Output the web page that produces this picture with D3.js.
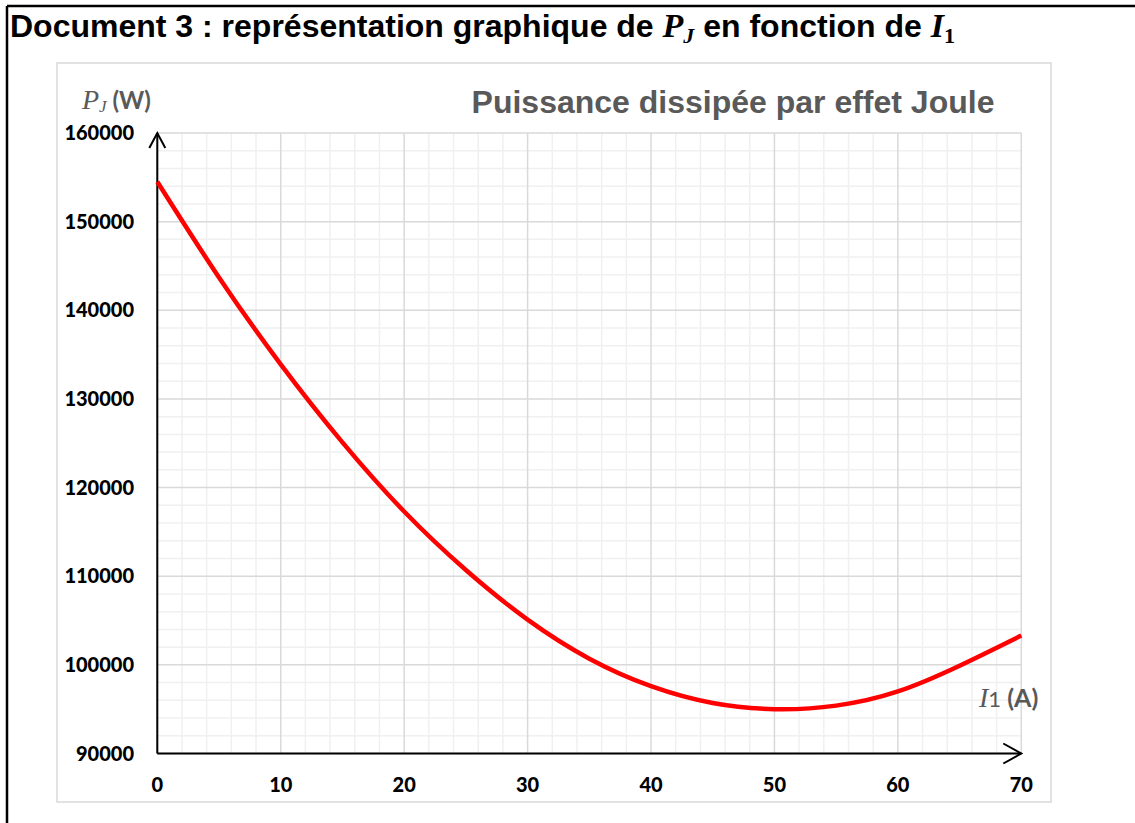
<!DOCTYPE html>
<html>
<head>
<meta charset="utf-8">
<script src="https://cdn.jsdelivr.net/npm/d3@7"></script>
<style>
body { margin: 0; background: #fff; }
svg { display: block; }
</style>
</head>
<body>
<svg id="chart" width="1135" height="823"></svg>
<script>
// données
const courant = [0, 5, 10, 15, 20, 25, 30, 35, 40, 45, 50, 55, 60, 65, 70];
const puissance = [154500, 143700, 133900, 125100, 117300, 110700, 105100, 100700, 97600, 95700, 95000, 95400, 97000, 99900, 103300];
const xTicks = [0, 10, 20, 30, 40, 50, 60, 70];
const yTicks = [90000, 100000, 110000, 120000, 130000, 140000, 150000, 160000];

let svg = d3.select("#chart");
let sans = "'Liberation Sans', Arial, sans-serif";
let serif = "'Liberation Serif', 'DejaVu Serif', serif";
let lato = "Lato, 'Open Sans', sans-serif";
let gris = "#595959";

// cadre du document
svg.append("rect").attr("width", 1135).attr("height", 823).attr("fill", "#fff");
svg.append("line").attr("x1", 7).attr("y1", 6).attr("x2", 1135).attr("y2", 6)
	.attr("stroke", "#000").attr("stroke-width", 2.5);
svg.append("line").attr("x1", 7).attr("y1", 6).attr("x2", 7).attr("y2", 823)
	.attr("stroke", "#000").attr("stroke-width", 2.5);

// titre du document
let titre = svg.append("text").attr("x", 10).attr("y", 37)
	.style("font-family", sans).style("font-weight", "bold").style("font-size", "32px").attr("fill", "#000");
titre.append("tspan").text("Document 3 : représentation graphique de ");
titre.append("tspan").style("font-family", serif).style("font-style", "italic").style("font-size", "34px").text("P");
titre.append("tspan").style("font-family", serif).style("font-style", "italic").style("font-size", "22px").attr("dy", 6).text("J");
titre.append("tspan").attr("dy", -6).text(" en fonction de ");
titre.append("tspan").style("font-family", serif).style("font-style", "italic").style("font-size", "34px").text("I");
titre.append("tspan").style("font-family", serif).style("font-size", "22px").attr("dy", 6).text("1");

// cadre du graphique
svg.append("rect").attr("x", 57).attr("y", 63).attr("width", 994).attr("height", 739)
	.attr("fill", "none").attr("stroke", "#d9d9d9").attr("stroke-width", 1.5);

let x = d3.scaleLinear().domain([0, 70]).range([157.3, 1021.3]);
let y = d3.scaleLinear().domain([90000, 160000]).range([753.5, 133]);

// grille secondaire
let g = svg.append("g");
g.selectAll(".vmin").data(d3.range(0, 71, 2).filter(d => d % 10 != 0)).enter().append("line")
	.attr("x1", d => x(d)).attr("x2", d => x(d)).attr("y1", y(90000)).attr("y2", y(160000))
	.attr("stroke", "#f0f0f0").attr("stroke-width", 1.5);
g.selectAll(".hmin").data(d3.range(90000, 160001, 2000).filter(d => d % 10000 != 0)).enter().append("line")
	.attr("x1", x(0)).attr("x2", x(70)).attr("y1", d => y(d)).attr("y2", d => y(d))
	.attr("stroke", "#f0f0f0").attr("stroke-width", 1.5);
// grille principale
g.selectAll(".vmaj").data(xTicks).enter().append("line")
	.attr("x1", d => x(d)).attr("x2", d => x(d)).attr("y1", y(90000)).attr("y2", y(160000))
	.attr("stroke", "#d9d9d9").attr("stroke-width", 1.5);
g.selectAll(".hmaj").data(yTicks).enter().append("line")
	.attr("x1", x(0)).attr("x2", x(70)).attr("y1", d => y(d)).attr("y2", d => y(d))
	.attr("stroke", "#d9d9d9").attr("stroke-width", 1.5);

// étiquettes des axes
svg.append("g").selectAll("text").data(yTicks).enter().append("text")
	.attr("x", 134).attr("y", d => y(d)).attr("dy", "0.35em").attr("text-anchor", "end")
	.style("font-family", lato).style("font-weight", "900").style("font-size", "20px").text(d => d);
svg.append("g").selectAll("text").data(xTicks).enter().append("text")
	.attr("x", d => x(d)).attr("y", 785).attr("dy", "0.35em").attr("text-anchor", "middle")
	.style("font-family", lato).style("font-weight", "900").style("font-size", "20px").text(d => d);

// axes avec flèches
svg.append("line").attr("x1", x(0)).attr("y1", y(90000)).attr("x2", x(0)).attr("y2", y(160000))
	.attr("stroke", "#000").attr("stroke-width", 2);
svg.append("path").attr("d", `M${x(0) - 8},${y(160000) + 15} L${x(0)},${y(160000)} L${x(0) + 8},${y(160000) + 15}`)
	.attr("fill", "none").attr("stroke", "#000").attr("stroke-width", 2);
svg.append("line").attr("x1", x(0)).attr("y1", y(90000)).attr("x2", x(70)).attr("y2", y(90000))
	.attr("stroke", "#000").attr("stroke-width", 2);
svg.append("path").attr("d", `M${x(70) - 18},${y(90000) - 10} L${x(70)},${y(90000)} L${x(70) - 18},${y(90000) + 10}`)
	.attr("fill", "none").attr("stroke", "#000").attr("stroke-width", 2);

// courbe
let ligne = d3.line().x((d, i) => x(courant[i])).y(d => y(d)).curve(d3.curveNatural);
svg.append("path").datum(puissance).attr("d", ligne)
	.attr("fill", "none").attr("stroke", "#ff0000").attr("stroke-width", 4.5);

// titre du graphique
svg.append("text").attr("x", 733).attr("y", 113).attr("text-anchor", "middle")
	.style("font-family", sans).style("font-weight", "bold").style("font-size", "32px").attr("fill", gris)
	.text("Puissance dissipée par effet Joule");

// nom des axes
let ly = svg.append("text").attr("x", 82).attr("y", 109).attr("fill", gris);
ly.append("tspan").style("font-family", serif).style("font-style", "italic").style("font-size", "28px").text("P");
ly.append("tspan").style("font-family", serif).style("font-style", "italic").style("font-size", "17px").attr("dy", 3).text("J");
ly.append("tspan").style("font-family", lato).style("font-weight", "bold").style("font-size", "24px").attr("dy", -3).text(" (W)");

let lx = svg.append("text").attr("x", 979).attr("y", 707).attr("fill", gris);
lx.append("tspan").style("font-family", serif).style("font-style", "italic").style("font-size", "28px").text("I");
lx.append("tspan").style("font-family", lato).style("font-size", "22px").text("1");
lx.append("tspan").style("font-family", lato).style("font-weight", "bold").style("font-size", "25px").text(" (A)");
</script>
</body>
</html>
